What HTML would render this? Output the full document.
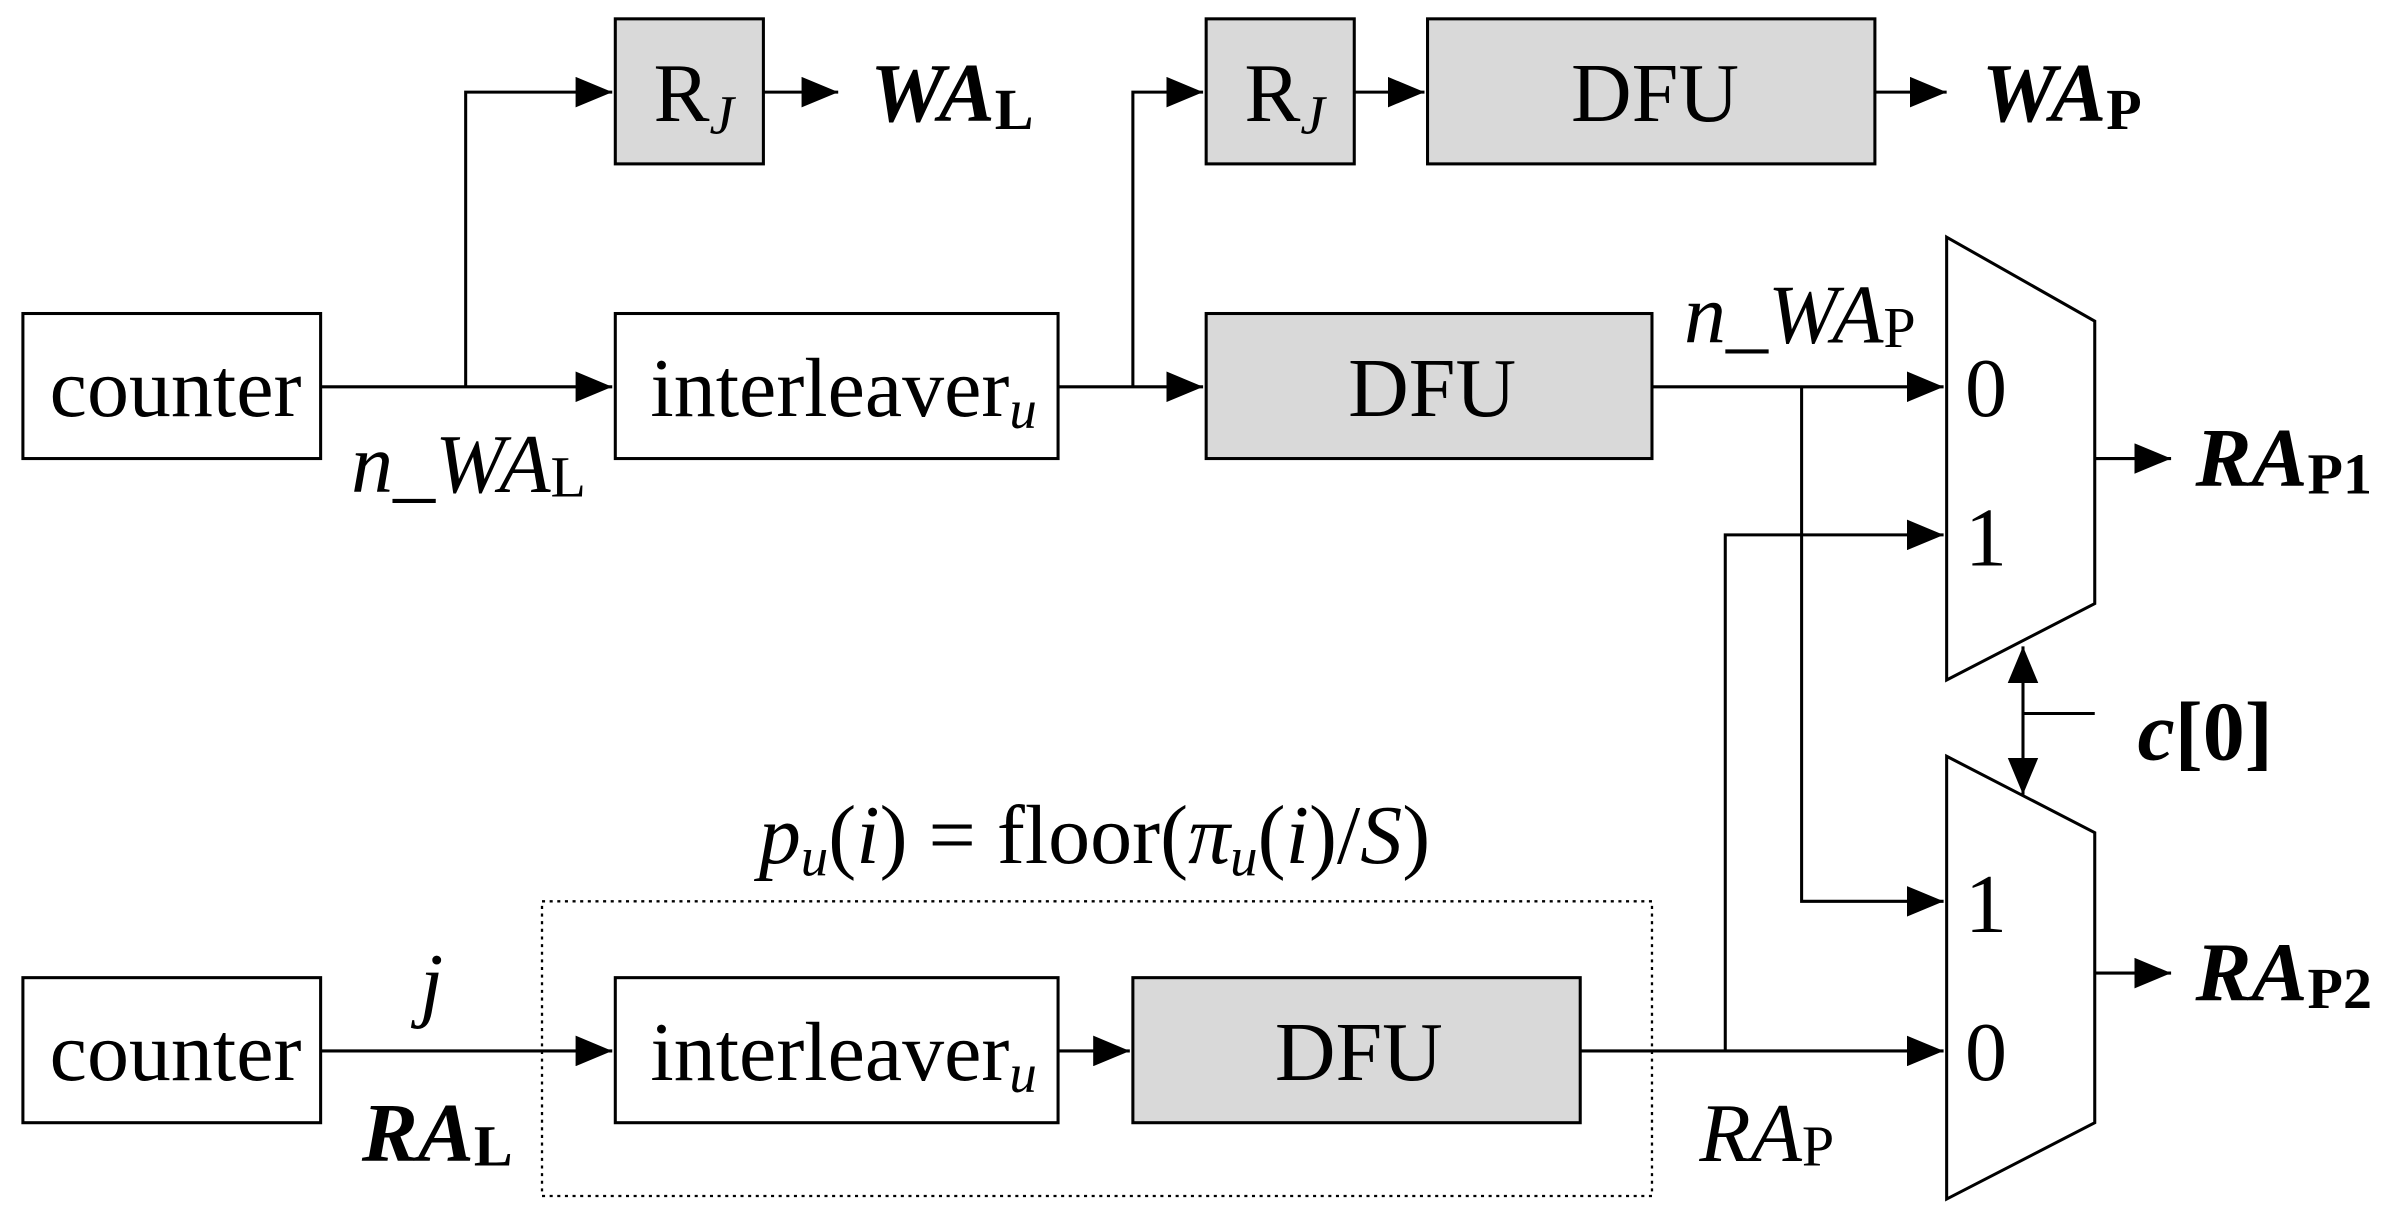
<!DOCTYPE html>
<html><head><meta charset="utf-8"><style>
html,body{margin:0;padding:0;background:#fff;}
svg{display:block;}
text{font-family:"Liberation Serif",serif;font-size:55px;fill:#000;}
.b{font-weight:bold;font-style:italic;}
.i{font-style:italic;}
</style></head><body>
<svg width="2394" height="1224" viewBox="0 0 1568 801" xmlns="http://www.w3.org/2000/svg">
<defs><marker id="a" markerWidth="24" markerHeight="20" refX="24" refY="10" orient="auto" markerUnits="userSpaceOnUse"><path d="M0,0L24,10L0,20Z" fill="#000"/></marker></defs>
<g stroke="#000" stroke-width="2" fill="none">
<rect x="15" y="205" width="195" height="95" fill="#fff"/>
<rect x="403" y="12" width="97" height="95" fill="#d9d9d9"/>
<rect x="403" y="205" width="290" height="95" fill="#fff"/>
<rect x="790" y="12" width="97" height="95" fill="#d9d9d9"/>
<rect x="935" y="12" width="293" height="95" fill="#d9d9d9"/>
<rect x="790" y="205" width="292" height="95" fill="#d9d9d9"/>
<rect x="15" y="640" width="195" height="95" fill="#fff"/>
<rect x="403" y="640" width="290" height="95" fill="#fff"/>
<rect x="742" y="640" width="293" height="95" fill="#d9d9d9"/>
<rect x="355" y="590" width="727" height="193" stroke-dasharray="2,3" stroke-width="1.5"/>
<polygon points="1275,155 1372,210 1372,395 1275,445" fill="#fff"/>
<polygon points="1275,495 1372,545 1372,735 1275,785" fill="#fff"/>
<path d="M210,253H401" marker-end="url(#a)"/>
<path d="M305,253V60H401" marker-end="url(#a)"/>
<path d="M500,60H549" marker-end="url(#a)"/>
<path d="M693,253H788" marker-end="url(#a)"/>
<path d="M742,253V60H788" marker-end="url(#a)"/>
<path d="M887,60H933" marker-end="url(#a)"/>
<path d="M1228,60H1275" marker-end="url(#a)"/>
<path d="M1082,253H1273" marker-end="url(#a)"/>
<path d="M1180,253V590H1273" marker-end="url(#a)"/>
<path d="M1372,300H1422" marker-end="url(#a)"/>
<path d="M1372,637H1422" marker-end="url(#a)"/>
<path d="M210,688H401" marker-end="url(#a)"/>
<path d="M693,688H740" marker-end="url(#a)"/>
<path d="M1035,688H1273" marker-end="url(#a)"/>
<path d="M1130,688V350H1273" marker-end="url(#a)"/>
<path d="M1372,467H1325"/>
<path d="M1325,467V423" marker-end="url(#a)"/>
<path d="M1325,467V520" marker-end="url(#a)"/>
</g>
<text x="115" y="272" text-anchor="middle">counter</text>
<text x="115" y="707" text-anchor="middle">counter</text>
<text x="426" y="272">interleaver<tspan class="i" font-size="36" dy="8">u</tspan></text>
<text x="426" y="707">interleaver<tspan class="i" font-size="36" dy="8">u</tspan></text>
<text x="428" y="79">R<tspan class="i" font-size="36" dy="8">J</tspan></text>
<text x="815" y="79">R<tspan class="i" font-size="36" dy="8">J</tspan></text>
<text x="1084" y="79" text-anchor="middle">DFU</text>
<text x="938" y="272" text-anchor="middle">DFU</text>
<text x="890" y="707" text-anchor="middle">DFU</text>
<text class="b" x="570" y="79">WA<tspan font-style="normal" font-size="38" dy="5">L</tspan></text>
<text class="b" x="1298" y="79">WA<tspan font-style="normal" font-size="38" dy="5">P</tspan></text>
<text class="b" x="1438" y="318">RA<tspan font-style="normal" font-size="38" dy="5">P1</tspan></text>
<text class="b" x="1438" y="655">RA<tspan font-style="normal" font-size="38" dy="5">P2</tspan></text>
<text x="1400" y="497"><tspan class="b">c</tspan><tspan font-weight="bold">[0]</tspan></text>
<text x="1287" y="272">0</text>
<text x="1287" y="370">1</text>
<text x="1287" y="610">1</text>
<text x="1287" y="707">0</text>
<text class="i" x="230" y="322">n_WA<tspan font-style="normal" font-size="38" dy="3">L</tspan></text>
<text class="i" x="1103" y="224">n_WA<tspan font-style="normal" font-size="38" dy="3">P</tspan></text>
<text class="i" x="275" y="662">j</text>
<text class="b" x="237" y="760">RA<tspan font-style="normal" font-size="38" dy="3">L</tspan></text>
<text class="i" x="1113" y="760">RA<tspan font-style="normal" font-size="38" dy="3">P</tspan></text>
<text x="497" y="565"><tspan class="i">p</tspan><tspan class="i" font-size="36" dy="8">u</tspan><tspan dy="-8">(</tspan><tspan class="i">i</tspan>) = floor(<tspan class="i">π</tspan><tspan class="i" font-size="36" dy="8">u</tspan><tspan dy="-8">(</tspan><tspan class="i">i</tspan>)/<tspan class="i">S</tspan>)</text>
</svg>
</body></html>
